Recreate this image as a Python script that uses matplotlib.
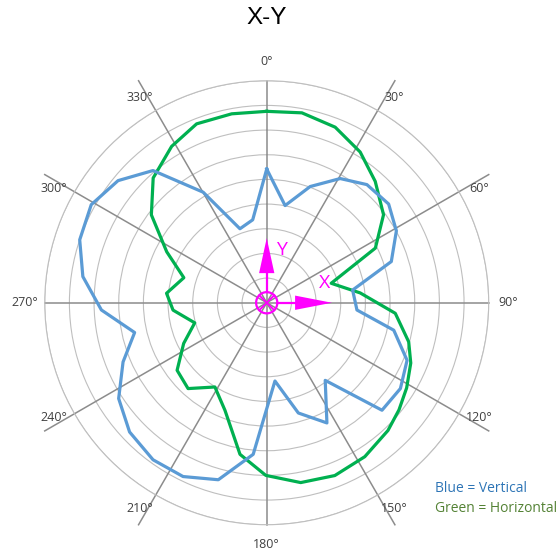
import numpy as np
import matplotlib.pyplot as plt

# polar data (angle in degrees, clockwise from top; radius in ring units)
blue_deg = [0, 10.7, 20.5, 30.6, 40.3, 51.0, 61.0, 71.7, 81.6, 94.6, 102.2, 112.3,
            122.7, 133.0, 143.0, 153.4, 164.0, 174.0, 185.1, 195.3, 205.7, 215.9,
            226.7, 237.1, 247.6, 257.3, 267.5, 278.1, 288.6, 299.2, 309.4, 319.3,
            330.1, 340.1, 350.4]
blue_r = [5.42, 4.01, 5.03, 5.85, 6.28, 6.36, 6.01, 5.32, 3.52, 3.67, 5.27, 6.15,
          6.44, 6.39, 3.94, 5.45, 4.65, 3.19, 6.17, 7.44, 7.82, 7.86,
          7.64, 7.15, 6.30, 5.49, 6.71, 7.53, 8.00, 8.15, 7.80, 7.07,
          5.17, 3.19, 3.41]

green_deg = [0, 10.5, 21.3, 31.8, 41.8, 53.0, 63.3, 73.2, 84.0, 94.7, 105.4, 112.7,
             121.3, 129.0, 136.5, 147.5, 158.5, 169.3, 180.3, 190.0, 201.2, 211.6,
             222.5, 233.0, 243.9, 254.4, 265.5, 275.4, 286.8, 297.0, 307.3, 317.7,
             328.7, 338.6, 349.5]
green_r = [7.76, 7.83, 7.64, 7.19, 6.60, 5.93, 4.93, 2.73, 3.81, 5.23, 5.97, 6.33,
           6.64, 6.90, 7.14, 7.40, 7.53, 7.42, 7.00, 6.24, 4.68, 4.01,
           4.72, 4.55, 3.75, 3.03, 3.81, 4.08, 3.51, 4.55, 5.88, 6.84,
           7.42, 7.79, 7.79]

spoke_deg = list(range(0, 360, 30))
spoke_labels = [f'{a}°' for a in spoke_deg]
rings = list(range(1, 10))

MAG = '#ff00ff'

fig = plt.figure(figsize=(5.59, 5.52), dpi=100)
rect = [0.0800, 0.0494, 0.7943, 0.8043]
ax = fig.add_axes(rect, projection='polar')
ax.set_theta_zero_location('N')
ax.set_theta_direction(-1)
ax.set_ylim(0, 9)
ax.set_yticks(rings)
ax.set_yticklabels([])
ax.set_xticks([])
ax.grid(True, axis='y', color='#bfbfbf', lw=0.8)
ax.spines['polar'].set_color('#bfbfbf')
ax.spines['polar'].set_linewidth(0.8)

# spokes run out to the bounding square of the outer ring
for a in spoke_deg:
    off = abs(((a + 45) % 90) - 45)
    L = 9 / np.cos(np.radians(off))
    ax.plot([np.radians(a)] * 2, [0, L], color='#8c8c8c', lw=1.1,
            clip_on=False, zorder=2)

for a, lab in zip(spoke_deg, spoke_labels):
    d = 2 * np.sin(np.radians(2 * a))
    ax.text(np.radians(a + d), 9.8, lab, ha='center', va='center',
            fontsize=9, color='#404040', family='Open Sans')

# closed outlines
g_th = np.radians(green_deg + green_deg[:1])
b_th = np.radians(blue_deg + blue_deg[:1])
ax.plot(g_th, green_r + green_r[:1], color='#00b050', lw=2.3, zorder=3)
ax.plot(b_th, blue_r + blue_r[:1], color='#5b9bd5', lw=2.3, zorder=4)

# magenta axis markers on top
ov = fig.add_axes(rect)
ov.set_xlim(-9, 9)
ov.set_ylim(-9, 9)
ov.axis('off')
ov.patch.set_alpha(0)
ov.add_patch(plt.Circle((0, 0), 0.43, fill=False, ec=MAG, lw=1.6))
ov.plot([-0.3, 0.3], [-0.3, 0.3], color=MAG, lw=1.4)
ov.plot([-0.3, 0.3], [0.3, -0.3], color=MAG, lw=1.4)
ov.plot([0, 0], [0.43, 1.25], color=MAG, lw=1.6)
ov.fill([-0.31, 0.31, 0], [1.2, 1.2, 2.62], color=MAG, lw=0)
ov.plot([0.43, 1.2], [0, 0], color=MAG, lw=1.6)
ov.fill([1.15, 1.15, 2.64], [-0.29, 0.29, 0], color=MAG, lw=0)
ov.text(0.61, 2.14, 'Y', color=MAG, fontsize=14, ha='center', va='center',
        family='Open Sans')
ov.text(2.33, 0.79, 'X', color=MAG, fontsize=14, ha='center', va='center',
        family='Open Sans')

fig.text(266.7 / 559, 1 - 18 / 552, 'X-Y', ha='center', va='center',
         fontsize=17.5, family='Liberation Sans', color='black')
fig.text(435 / 559, 1 - 488 / 552, 'Blue = Vertical', ha='left', va='center',
         fontsize=10, color='#2e75b6', family='Open Sans')
fig.text(435 / 559, 1 - 508 / 552, 'Green = Horizontal', ha='left', va='center',
         fontsize=10, color='#548235', family='Open Sans')

fig.savefig('out.png', dpi=100)
